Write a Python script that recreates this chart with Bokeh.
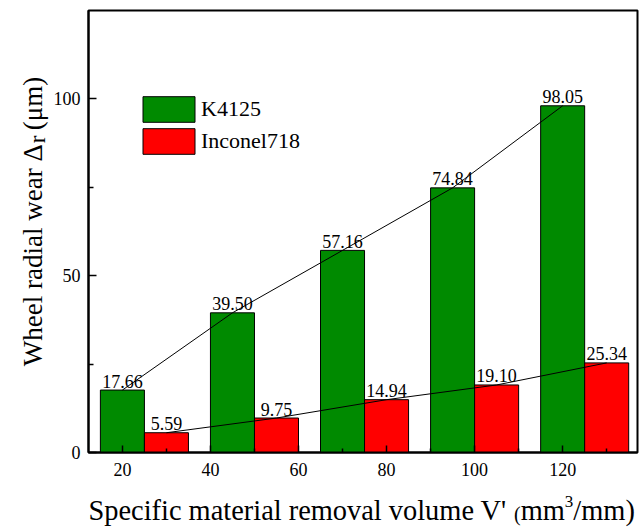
import math
from bokeh.plotting import figure
from bokeh.layouts import column, row
from bokeh.models import Range1d, FixedTicker, Legend, LegendItem
from bokeh.core.properties import value
from bokeh.embed import file_html
from bokeh.resources import INLINE

# ---- data ----
volume_ticks = [20, 40, 60, 80, 100, 120]
series_names = ["K4125", "Inconel718"]
k4125 = [17.66, 39.50, 57.16, 74.84, 98.05]
inconel718 = [5.59, 9.75, 14.94, 19.10, 25.34]
x_label_parts = ["Specific material removal volume V'", "(", "mm", "3", "/mm)"]
y_label_parts = ["Wheel radial wear \u0394", "r", "(\u03bcm)"]

# ---- layout helpers ----
FONT = "Liberation Serif"
GREEN = "#008A00"
RED = "#FF0000"
group_step = 25
bar_w = 10
k_x = [volume_ticks[0] + group_step * i for i in range(len(k4125))]
i_x = [x + bar_w for x in k_x]

TOTAL_W, TOTAL_H = 641, 528
YT_W = 50                  # width of the y-title strip
XT_H = 42                  # height of the x-title strip
MAIN_W = TOTAL_W - YT_W
MAIN_H = TOTAL_H - XT_H
X_LO, X_HI = 12.3, 137.0
Y_LO, Y_HI = 0, 125
FH = 442


def dy(px):   # px -> data y on the main plot
    return px * (Y_HI - Y_LO) / FH


W = {" ": 250, "'": 180, "(": 333, ")": 333, "/": 278, "3": 500, "S": 556, "V": 722,
     "W": 944, "a": 444, "c": 444, "d": 500, "e": 444, "f": 333, "h": 500, "i": 278,
     "l": 278, "m": 778, "o": 500, "p": 500, "r": 333, "t": 278, "u": 500, "v": 500,
     "w": 722, "\u0394": 612, "\u03bc": 500}


def tw(s, size):
    return sum(W.get(c, 500) for c in s) * size / 1000.0


MID = 0.3375  # em-box middle above the baseline

# ---------------- main plot ----------------
p = figure(width=MAIN_W, height=MAIN_H, output_backend="svg",
           toolbar_location=None, title=None,
           x_range=Range1d(X_LO, X_HI), y_range=Range1d(Y_LO, Y_HI),
           min_border_left=88 - YT_W, min_border_right=4, min_border_top=10,
           min_border_bottom=MAIN_H - 10 - FH, background_fill_color="white",
           border_fill_color="white")
p.xgrid.visible = False
p.ygrid.visible = False
p.outline_line_color = "black"
p.outline_line_width = 2

rk = p.vbar(x=k_x, top=k4125, width=bar_w, fill_color=GREEN,
            line_color="black", line_width=1)
ri = p.vbar(x=i_x, top=inconel718, width=bar_w, fill_color=RED,
            line_color="black", line_width=1)
p.line(k_x, k4125, line_color="black", line_width=1)
p.line(i_x, inconel718, line_color="black", line_width=1)

pad = dy(9)
for xs, ys in [(k_x, k4125), (i_x, inconel718)]:
    p.text(x=xs, y=[v + pad for v in ys], text=[f"{v:.2f}" for v in ys],
           text_font=value(FONT), text_font_size="18px", text_align="center",
           text_baseline="middle", text_color="black")

xax = p.xaxis[0]
yax = p.yaxis[0]
xax.ticker = FixedTicker(ticks=volume_ticks,
                         minor_ticks=[t + bar_w for t in volume_ticks])
yax.ticker = FixedTicker(ticks=[0, 50, 100], minor_ticks=[25, 75])
for ax, mj, mn in [(xax, 7, 4), (yax, 8, 5)]:
    ax.axis_line_width = 2
    ax.axis_line_color = "black"
    ax.major_tick_in = mj
    ax.major_tick_out = 0
    ax.minor_tick_in = mn
    ax.minor_tick_out = 0
    ax.major_tick_line_width = 1.5
    ax.minor_tick_line_width = 1.5
    ax.major_tick_line_color = "black"
    ax.minor_tick_line_color = "black"
    ax.major_label_text_font = FONT
    ax.major_label_text_font_size = "18px"
    ax.major_label_text_color = "black"
xax.major_label_standoff = 10
yax.major_label_standoff = 8

legend = Legend(items=[LegendItem(label=series_names[0], renderers=[rk]),
                       LegendItem(label=series_names[1], renderers=[ri])],
                location=(48, 295), glyph_width=65, glyph_height=32,
                spacing=-3, padding=0, margin=0, label_standoff=0,
                label_height=32, label_text_font=FONT,
                label_text_font_size="22px", label_text_color="black",
                border_line_color=None, background_fill_alpha=0)
p.add_layout(legend, "center")


def strip(w, h):
    f = figure(width=w, height=h, output_backend="svg", toolbar_location=None,
               title=None, x_range=Range1d(0, w), y_range=Range1d(0, h),
               x_axis_type=None, y_axis_type=None, min_border=0,
               background_fill_color="white", border_fill_color="white")
    f.outline_line_color = None
    f.xgrid.visible = False
    f.ygrid.visible = False
    return f


# ---------------- x title strip ----------------
xt = strip(TOTAL_W, XT_H)
XF = 28.4
x_sizes = [XF, 20, XF, 17, XF]
x_rise = [0, 0, 0, 13, 0]
x_gap = [tw(" ", XF), 0, 0, 0, 0]      # space after a part
base_x = XT_H - (520 - MAIN_H)        # baseline (strip data y)
cur = 88.0
for txt, fs, rise, gap in zip(x_label_parts, x_sizes, x_rise, x_gap):
    xt.text(x=[cur], y=[base_x + rise + MID * fs], text=[txt],
            text_font=value(FONT), text_font_size=f"{fs}px",
            text_align="left", text_baseline="middle", text_color="black")
    cur += tw(txt, fs) + gap

# ---------------- y title strip ----------------
yt = strip(YT_W, MAIN_H)
YF = 27
base_y = 42.0                          # baseline x (page)
junction = MAIN_H - 147.0              # end of the Delta (strip data y)
sub_fs = 23
# main part ends at the junction
yt.text(x=[base_y - MID * YF], y=[junction], text=[y_label_parts[0]],
        text_font=value(FONT), text_font_size=f"{YF}px", text_align="right",
        text_baseline="middle", angle=math.pi / 2, text_color="black")
# subscript r
yt.text(x=[base_y + 3 - MID * sub_fs], y=[junction + 1], text=[y_label_parts[1]],
        text_font=value(FONT), text_font_size=f"{sub_fs}px", text_align="left",
        text_baseline="middle", angle=math.pi / 2, text_color="black")
# tail, after a space
yt.text(x=[base_y - MID * YF],
        y=[junction + 1 + tw("r", sub_fs) + tw(" ", YF)],
        text=[y_label_parts[2]], text_font=value(FONT),
        text_font_size=f"{YF}px", text_align="left", text_baseline="middle",
        angle=math.pi / 2, text_color="black")

layout = column(row(yt, p, spacing=0), xt, spacing=0)
open("out.html", "w").write(file_html(layout, INLINE))
